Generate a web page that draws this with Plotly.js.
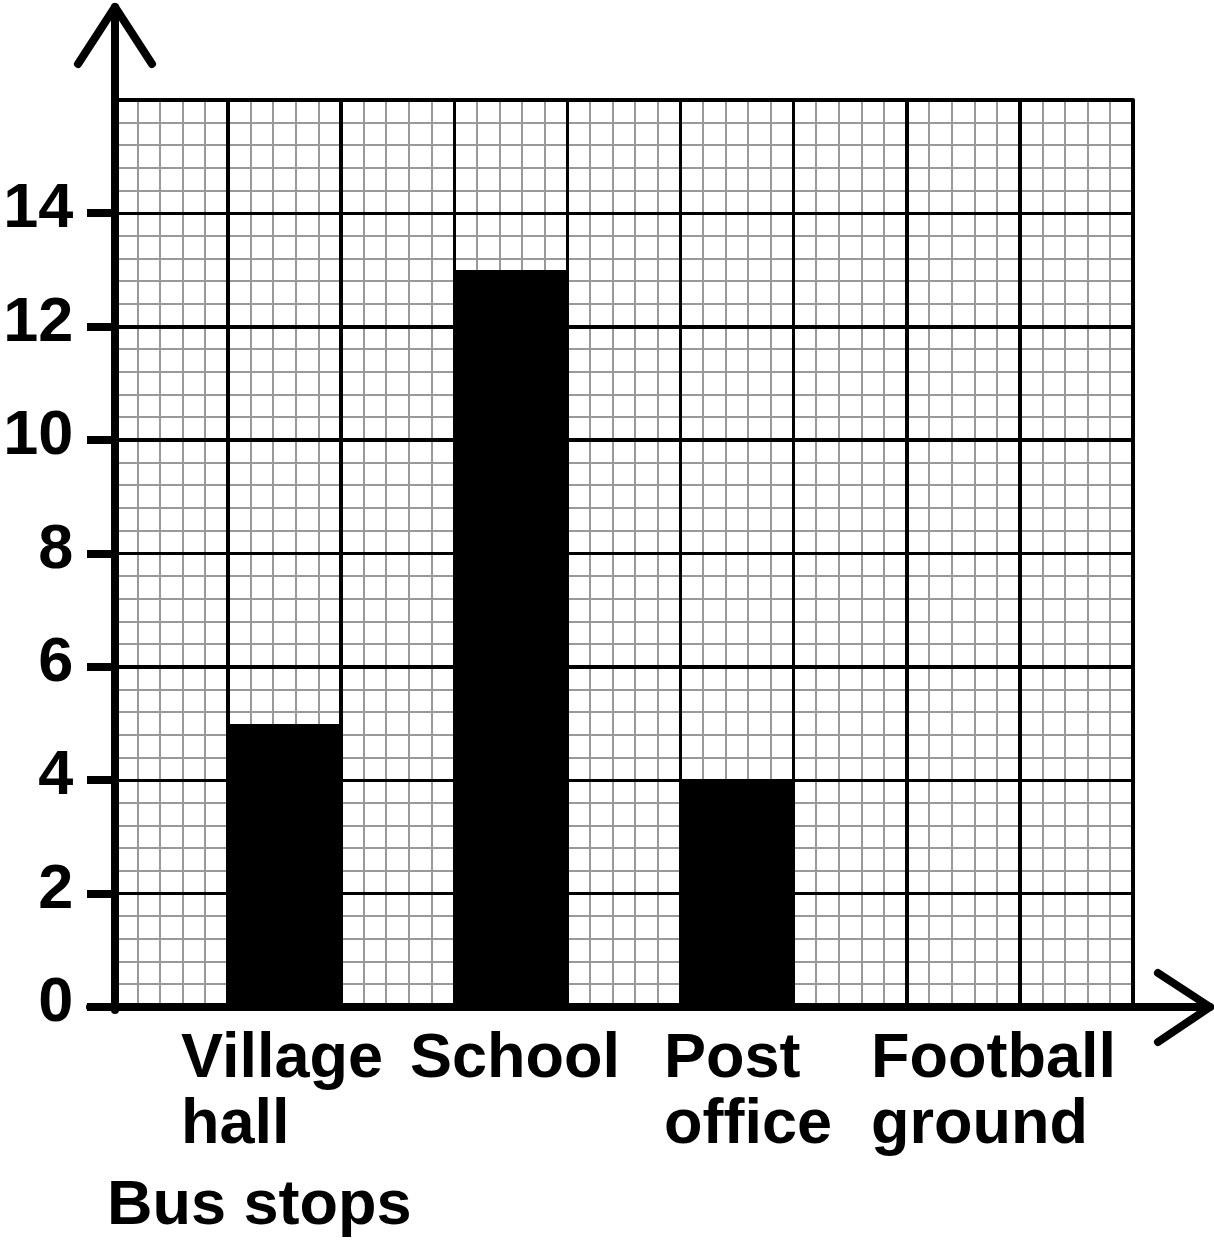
<!DOCTYPE html>
<html>
<head>
<meta charset="utf-8">
<script src="https://cdn.plot.ly/plotly-3.0.1.min.js"></script>
<style>
  html, body { margin: 0; padding: 0; background: #fff; }
  #chart { width: 1214px; height: 1242px; }
  .shapelayer path { stroke-linecap: round; stroke-linejoin: round; }
</style>
</head>
<body>
<div id="chart"></div>
<script>
// ---- data ----
const categories = ['Village hall', 'School', 'Post office', 'Football ground'];
const passengers = [5, 13, 4, null];   // Football ground bar not drawn
const yTickVals = [0, 2, 4, 6, 8, 10, 12, 14];
const yTickText = ['0', '2', '4', '6', '8', '10', '12', '14'];
const xAxisTitle = 'Bus stops';

// ---- layout constants (styles / positions) ----
const W = 1214, H = 1242;
const M = { l: 115, r: 81, t: 100, b: 235 };
const PW = W - M.l - M.r, PH = H - M.t - M.b;
const FONT = 'Liberation Sans, Arial, Helvetica, sans-serif';
const FS = 63;
const labelShift = [-104, -101, -73, -92];
const lineGap = 66;

const px = x => (x - M.l) / PW;          // pixel -> paper
const py = y => (H - M.b - y) / PH;

const barX = categories.map((c, i) => 1.5 + 2 * i);

const trace = {
  type: 'bar',
  x: barX,
  y: passengers,
  width: 1,
  marker: { color: '#000', line: { width: 0 } },
  text: categories,
  hovertemplate: '%{text}: %{y}<extra></extra>',
  textposition: 'none'
};

const annotations = [];
categories.forEach((name, i) => {
  name.split(' ').forEach((word, j) => {
    annotations.push({
      xref: 'x', yref: 'paper', x: barX[i], y: 0,
      xanchor: 'left', yanchor: 'top',
      xshift: labelShift[i], yshift: -13 - j * lineGap,
      text: word, showarrow: false, align: 'left',
      borderpad: 0, borderwidth: 0,
      font: { family: FONT, size: FS, weight: 'bold', color: '#000' }
    });
  });
});
annotations.push({
  xref: 'paper', yref: 'paper', x: 0, y: 0,
  xanchor: 'left', yanchor: 'top', xshift: -8, yshift: -160,
  text: xAxisTitle, showarrow: false, borderpad: 0, borderwidth: 0,
  font: { family: FONT, size: FS, weight: 'bold', color: '#000' }
});

const AX = 8;
const shapes = [
  // plot border (top & right)
  { type: 'rect', xref: 'paper', yref: 'paper', x0: 0, y0: 0, x1: 1, y1: 1,
    line: { color: '#000', width: 4 }, layer: 'above' },
  // y axis line
  { type: 'line', xref: 'paper', yref: 'paper', x0: 0, y0: py(1010), x1: 0, y1: py(7),
    line: { color: '#000', width: AX } },
  // y axis arrow head
  { type: 'path', xref: 'paper', yref: 'paper',
    path: `M ${px(78)},${py(64)} L ${px(115)},${py(7)} L ${px(152)},${py(64)}`,
    line: { color: '#000', width: AX } },
  // x axis line
  { type: 'line', xref: 'paper', yref: 'paper', x0: px(90), y0: 0, x1: px(1210), y1: 0,
    line: { color: '#000', width: AX } },
  // x axis arrow head
  { type: 'path', xref: 'paper', yref: 'paper',
    path: `M ${px(1158)},${py(973)} L ${px(1210)},${py(1007)} L ${px(1158)},${py(1042)}`,
    line: { color: '#000', width: AX } }
];

const layout = {
  width: W, height: H,
  margin: M,
  paper_bgcolor: '#fff', plot_bgcolor: '#fff',
  showlegend: false,
  bargap: 0,
  xaxis: {
    range: [0, 9], autorange: false, fixedrange: true,
    tickmode: 'array', tickvals: [0, 1, 2, 3, 4, 5, 6, 7, 8, 9],
    showticklabels: false, ticks: '',
    showgrid: true, gridcolor: '#000', gridwidth: 3.5,
    zeroline: false, showline: false,
    minor: { tick0: 0, dtick: 0.2, showgrid: true, gridcolor: '#999', gridwidth: 2, ticks: '' }
  },
  yaxis: {
    range: [0, 16], autorange: false, fixedrange: true,
    tickmode: 'array', tickvals: yTickVals, ticktext: yTickText,
    ticks: 'outside', ticklen: 27, tickwidth: AX, tickcolor: '#000',
    ticklabelstandoff: 1, ticklabelshift: -8,
    tickfont: { family: FONT, size: FS, weight: 'bold', color: '#000' },
    showgrid: true, gridcolor: '#000', gridwidth: 3.5,
    zeroline: false, showline: false,
    minor: { tick0: 0, dtick: 0.4, showgrid: true, gridcolor: '#999', gridwidth: 2, ticks: '' }
  },
  annotations: annotations,
  shapes: shapes
};

Plotly.newPlot('chart', [trace], layout, { displayModeBar: false, staticPlot: true });
</script>
</body>
</html>
